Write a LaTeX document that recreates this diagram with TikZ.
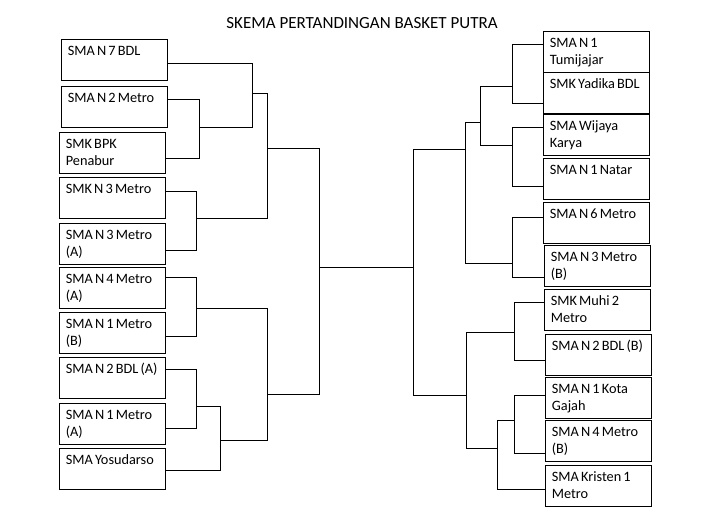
\documentclass[tikz,border=0pt]{standalone}
\usepackage{fontspec}
\setmainfont{Carlito}
\usetikzlibrary{positioning}

\newcommand{\teamtext}[1]{\parbox[t][41pt][t]{106pt}{\leftskip=6.5pt\rightskip=0pt plus 1fil\parindent=0pt\spaceskip=0.15em plus 0.05em\rule{0pt}{16.5pt}#1}}

\begin{document}
\begin{tikzpicture}
	[x=1pt,y=-1pt,line width=0.75pt,
	 team/.style={draw,anchor=north west,inner sep=0pt,font=\fontsize{14.3}{16.5}\selectfont},
	 every path/.style={line join=miter}]

	\useasboundingbox (0,0) rectangle (725,513);
	\node[anchor=base,inner sep=0pt,font=\fontsize{17}{20}\selectfont] (title) at (362,29) {SKEMA PERTANDINGAN BASKET PUTRA};

	% left half
	\node[team] (l1) at (61,39) {\teamtext{SMA N 7 BDL}};
	\node[team] (l2) at (61,86) {\teamtext{SMA N 2 Metro}};
	\node[team] (l3) at (59,132) {\teamtext{SMK BPK\\Penabur}};
	\node[team] (l4) at (59,177) {\teamtext{SMK N 3 Metro}};
	\node[team] (l5) at (59,223) {\teamtext{SMA N 3 Metro\\(A)}};
	\node[team] (l6) at (59,267) {\teamtext{SMA N 4 Metro\\(A)}};
	\node[team] (l7) at (59,312) {\teamtext{SMA N 1 Metro\\(B)}};
	\node[team] (l8) at (59,357) {\teamtext{SMA N 2 BDL (A)}};
	\node[team] (l9) at (59,403) {\teamtext{SMA N 1 Metro\\(A)}};
	\node[team] (l10) at (59,448) {\teamtext{SMA Yosudarso}};

	% right half
	\node[team] (r1) at (543,31) {\teamtext{SMA N 1\\Tumijajar}};
	\node[team] (r2) at (543,72) {\teamtext{SMK Yadika BDL}};
	\node[team] (r3) at (543,114) {\teamtext{SMA Wijaya\\Karya}};
	\node[team] (r4) at (543,158) {\teamtext{SMA N 1 Natar}};
	\node[team] (r5) at (543,202) {\teamtext{SMA N 6 Metro}};
	\node[team] (r6) at (544,245) {\teamtext{SMA N 3 Metro\\(B)}};
	\node[team] (r7) at (544,289) {\teamtext{SMK Muhi 2\\Metro}};
	\node[team] (r8) at (545,334) {\teamtext{SMA N 2 BDL (B)}};
	\node[team] (r9) at (545,377) {\teamtext{SMA N 1 Kota\\Gajah}};
	\node[team] (r10) at (545,420) {\teamtext{SMA N 4 Metro\\(B)}};
	\node[team] (r11) at (545,465) {\teamtext{SMA Kristen 1\\Metro}};

	% where the lines leave the boxes
	\coordinate (l1e) at ([yshift=-24pt]l1.north east);
	\coordinate (l2e) at ([yshift=-13pt]l2.north east);
	\coordinate (l3e) at ([yshift=-26pt]l3.north east);
	\coordinate (l4e) at ([yshift=-14pt]l4.north east);
	\coordinate (l5e) at ([yshift=-27pt]l5.north east);
	\coordinate (l6e) at ([yshift=-10pt]l6.north east);
	\coordinate (l7e) at ([yshift=-24pt]l7.north east);
	\coordinate (l8e) at ([yshift=-12pt]l8.north east);
	\coordinate (l9e) at ([yshift=-25pt]l9.north east);
	\coordinate (l10e) at ([yshift=-22pt]l10.north east);
	\coordinate (r1w) at ([yshift=-13pt]r1.north west);
	\coordinate (r2w) at ([yshift=-31pt]r2.north west);
	\coordinate (r3w) at ([yshift=-13pt]r3.north west);
	\coordinate (r4w) at ([yshift=-28pt]r4.north west);
	\coordinate (r5w) at ([yshift=-15pt]r5.north west);
	\coordinate (r6w) at ([yshift=-32pt]r6.north west);
	\coordinate (r7w) at ([yshift=-13pt]r7.north west);
	\coordinate (r8w) at ([yshift=-26pt]r8.north west);
	\coordinate (r9w) at ([yshift=-18pt]r9.north west);
	\coordinate (r10w) at ([yshift=-33pt]r10.north west);
	\coordinate (r11w) at ([yshift=-24pt]r11.north west);

	% rounds, left
	\coordinate (m1) at (199,127);
	\coordinate (m2) at (252,93);
	\coordinate (m3) at (196,218);
	\coordinate (m4) at (267,148);
	\coordinate (m5) at (196,308);
	\coordinate (m6) at (196,406);
	\coordinate (m7) at (220,440);
	\coordinate (m8) at (267,394);
	\coordinate (finl) at (319,267);

	\draw (l2e) -| (m1 |- l3e) -- (l3e);
	\draw (l1e) -| (m2 |- m1) -- (m1);
	\draw (l4e) -| (m3 |- l5e) -- (l5e);
	\draw (m2) -| (m4 |- m3) -- (m3);
	\draw (l6e) -| (m5 |- l7e) -- (l7e);
	\draw (l8e) -| (m6 |- l9e) -- (l9e);
	\draw (m6) -| (m7 |- l10e) -- (l10e);
	\draw (m5) -| (m8 |- m7) -- (m7);
	\draw (m4) -| (finl |- m8) -- (m8);

	% rounds, right
	\coordinate (s1) at (512,86);
	\coordinate (s2) at (512,145);
	\coordinate (s3) at (480,122);
	\coordinate (s4) at (512,263);
	\coordinate (s5) at (465,149);
	\coordinate (s6) at (514,332);
	\coordinate (s7) at (514,420);
	\coordinate (s8) at (497,448);
	\coordinate (s9) at (466,395);
	\coordinate (finr) at (413,267);

	\draw (r1w) -| (s1 |- r2w) -- (r2w);
	\draw (r3w) -| (s2 |- r4w) -- (r4w);
	\draw (s1) -| (s3 |- s2) -- (s2);
	\draw (r5w) -| (s4 |- r6w) -- (r6w);
	\draw (s3) -| (s5 |- s4) -- (s4);
	\draw (r7w) -| (s6 |- r8w) -- (r8w);
	\draw (r9w) -| (s7 |- r10w) -- (r10w);
	\draw (s7) -| (s8 |- r11w) -- (r11w);
	\draw (s6) -| (s9 |- s8) -- (s8);
	\draw (s5) -| (finr |- s9) -- (s9);

	% final
	\draw (finl) -- (finr);

\end{tikzpicture}
\end{document}
